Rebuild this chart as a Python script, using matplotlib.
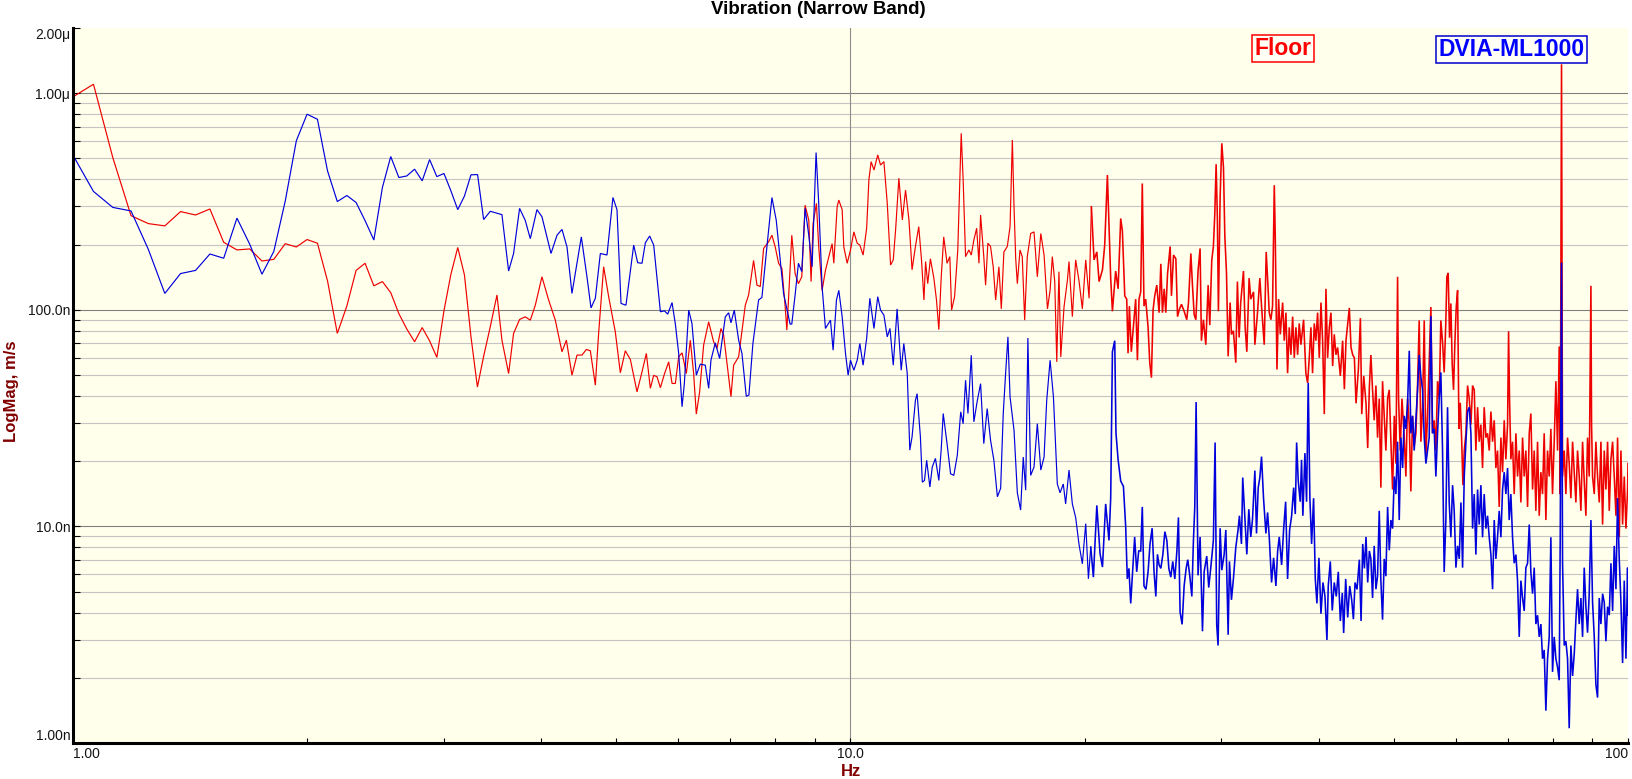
import matplotlib
matplotlib.use('Agg')
import matplotlib.pyplot as plt
from matplotlib.ticker import FixedLocator, NullFormatter

plt.rcParams['font.family'] = ['Liberation Sans', 'DejaVu Sans']

# ---------------- data ----------------
# Floor (red): frequency in Hz, magnitude in nm/s
floor_hz = [
    1.0, 1.0625, 1.125, 1.1875, 1.25, 1.3125, 1.375, 1.4375, 1.5, 1.5625,
    1.625, 1.6875, 1.75, 1.8125, 1.875, 1.9375, 2.0, 2.0625, 2.125, 2.1875,
    2.25, 2.3125, 2.375, 2.4375, 2.5, 2.5625, 2.625, 2.6875, 2.75, 2.8125,
    2.875, 2.9375, 3.0, 3.0625, 3.125, 3.1875, 3.25, 3.3125, 3.374, 3.441,
    3.510, 3.562, 3.633, 3.687, 3.753, 3.816, 3.874, 3.932, 4.010, 4.090,
    4.172, 4.255, 4.311, 4.383, 4.449, 4.515, 4.573, 4.628, 4.697, 4.743,
    4.814, 4.886, 4.983, 5.058, 5.133, 5.210, 5.314, 5.393, 5.463, 5.528,
    5.583, 5.638, 5.695, 5.763, 5.837, 5.895, 5.953, 6.012, 6.072, 6.150,
    6.223, 6.284, 6.334, 6.397, 6.473, 6.570, 6.667, 6.734, 6.814, 6.868,
    7.019, 7.074, 7.180, 7.323, 7.395, 7.505, 7.580, 7.655, 7.731, 7.846,
    7.924, 8.002, 8.082, 8.162, 8.242, 8.282, 8.322, 8.404, 8.487, 8.571,
    8.656, 8.742, 8.838, 8.898, 8.951, 9.040, 9.102, 9.193, 9.285, 9.470,
    9.518, 9.612, 9.660, 9.756, 9.804, 9.902,
    10.00, 10.10, 10.20, 10.28, 10.38, 10.49, 10.56, 10.63, 10.72, 10.84,
    10.93, 11.04, 11.15, 11.26, 11.35, 11.43, 11.54, 11.66, 11.77, 11.89,
    12.00, 12.12, 12.24, 12.34, 12.43, 12.49, 12.57, 12.67, 12.80, 12.90,
    12.99, 13.08, 13.18, 13.31, 13.42, 13.49, 13.61, 13.74, 13.88, 13.96,
    14.06, 14.20, 14.30, 14.41, 14.53, 14.63, 14.70, 14.84, 14.92, 15.02,
    15.14, 15.26, 15.37, 15.52, 15.63, 15.75, 15.91, 16.04, 16.15, 16.23,
    16.31, 16.39, 16.52, 16.63, 16.75, 16.88, 17.05, 17.22, 17.39, 17.57,
    17.74, 17.92, 18.06, 18.18, 18.31, 18.42, 18.54, 18.64, 18.82, 19.01,
    19.10, 19.29, 19.48, 19.67, 19.87, 20.07, 20.27, 20.41, 20.57, 20.74,
    20.88, 21.09, 21.23, 21.40, 21.61,
    21.72, 21.93, 22.09, 22.26, 22.37, 22.53, 22.66, 22.75, 22.84, 22.97,
    23.11, 23.27, 23.39, 23.50, 23.62, 23.73, 23.85, 23.97, 24.14, 24.26,
    24.38, 24.50, 24.62, 24.77, 24.94, 25.07, 25.19, 25.32, 25.44, 25.57,
    25.77, 25.87, 26.03, 26.21, 26.34, 26.47, 26.65, 26.86, 27.07, 27.21,
    27.40, 27.53, 27.67, 27.81, 27.99, 28.16, 28.27, 28.44, 28.64, 28.84,
    28.98, 29.15, 29.29, 29.41, 29.53, 29.64, 29.73, 29.88, 30.03, 30.18,
    30.30, 30.45, 30.60, 30.78, 30.90, 31.08, 31.30, 31.45, 31.61, 31.76,
    32.02, 32.18, 32.34, 32.56, 32.72, 32.99, 33.12, 33.38, 33.61, 33.78,
    34.05, 34.25, 34.39, 34.56, 34.73, 34.90, 35.08, 35.18, 35.36, 35.53,
    35.71, 35.96, 36.13, 36.31, 36.49, 36.67, 36.85, 37.04, 37.22, 37.40,
    37.59, 37.77, 37.96, 38.26, 38.52, 38.72, 38.91, 39.10, 39.29, 39.49,
    39.68, 39.88, 40.08, 40.28, 40.48, 40.68, 40.88, 41.08, 41.29, 41.49,
    41.70, 41.90, 42.11, 42.32, 42.66, 42.95, 43.17, 43.38, 43.81, 44.03,
    44.25, 44.47, 44.69, 45.00, 45.27, 45.45, 45.72, 46.03, 46.26, 46.49,
    46.70, 46.93, 47.16, 47.40, 47.63, 47.87, 48.10, 48.34, 48.58, 48.82,
    49.07, 49.31, 49.55, 49.80, 50.05, 50.29, 50.54, 50.69, 50.94, 51.20,
    51.55, 51.80, 52.06, 52.32, 52.57, 52.83, 53.09, 53.36, 53.62, 53.88,
    54.15, 54.42, 54.69, 54.96, 55.23, 55.50, 55.78, 56.05, 56.33, 56.61,
    56.89, 57.17, 57.45, 57.74, 58.02, 58.31, 58.48, 58.71, 58.95, 59.18,
    59.41, 59.65, 59.89, 60.13, 60.37, 60.61, 60.85, 61.09, 61.33, 61.57,
    61.88, 62.18, 62.49, 62.80, 63.11, 63.42, 63.73, 64.05, 64.36, 64.68,
    65.00, 65.32, 65.65, 65.97, 66.30, 66.63, 66.96, 67.29, 67.62, 67.95,
    68.29, 68.63, 68.97, 69.31, 69.65, 70.00, 70.21, 70.41, 70.69, 71.04,
    71.39, 71.75, 72.10, 72.46, 72.82, 73.18, 73.54, 73.90, 74.27, 74.64,
    75.00, 75.38, 75.75, 76.12, 76.50, 76.88, 77.26, 77.64, 78.02, 78.41,
    78.80, 79.19, 79.58, 79.97, 80.37, 80.77, 81.17, 81.57, 81.81, 82.13,
    82.38, 82.79, 83.20, 83.61, 84.02, 84.44, 84.86, 85.28, 85.70, 86.12,
    86.55, 86.98, 87.41, 87.84, 88.28, 88.71, 89.15, 89.42, 89.60, 89.77,
    90.04, 90.49, 90.93, 91.38, 91.84, 92.29, 92.75, 93.21, 93.67, 94.13,
    94.60, 95.07, 95.54, 96.01, 96.49, 96.96, 97.44, 97.93, 98.41, 98.90,
    99.39, 99.88, 100.0,
]
floor_nm = [
    962, 1100, 505, 272, 250, 244, 284, 274, 292, 205,
    189, 191, 168, 171, 202, 195, 211, 203, 136, 77.8,
    104, 152, 164, 129, 135, 120, 96, 81.5, 71.2, 82.8,
    71.9, 60.3, 99, 146, 194, 145, 75, 44, 61, 83.5,
    117, 72.4, 50.8, 77.8, 90.2, 92.8, 89.6, 105, 142, 111,
    89.6, 64, 72.4, 49.9, 61.8, 61.8, 65.6, 64.7, 44.9, 77.8,
    158, 115, 79.1, 51.2, 64.7, 59, 41.8, 51.7, 62.9, 43.4,
    49.8, 49.1, 43.7, 50.5, 57.5, 45.7, 45.7, 60.7, 63.3, 50.8,
    72.4, 50.8, 33, 41.8, 68.7, 88, 71.2, 66.3, 82, 76.4,
    39.7, 55.5, 60.7, 105, 117, 169, 130, 128, 192, 206,
    221, 195, 164, 155, 103, 80.6, 111, 221, 147, 132,
    142, 304, 259, 135, 250, 310, 195, 123, 152, 202,
    164, 299, 321, 290, 195, 164,
    189, 229, 203, 199, 179, 238, 398, 483, 442, 519,
    466, 483, 310, 161, 170, 235, 405, 260, 357, 260,
    153, 196, 242, 170, 111, 167, 132, 172, 140, 111,
    81, 140, 217, 164, 176, 99.7, 115, 189, 653, 398,
    176, 189, 179, 210, 238, 164, 274, 176, 130, 203,
    196, 158, 111, 158, 101, 185, 196, 242, 608, 299,
    173, 132, 189, 176, 89.6, 176, 225, 229, 142, 225,
    179, 101, 123, 176, 135, 57.5, 150, 60.6, 103, 137,
    167, 93, 170, 137, 101, 170, 113, 299, 170, 185,
    135, 153, 199, 419, 140,
    98.5, 151, 125, 264, 232, 116, 112, 63, 104, 64,
    83, 112, 58.5, 112, 121, 383, 104, 112, 83, 57,
    48.6, 100, 116, 130, 97, 163, 97, 125, 97, 146,
    196, 116, 179, 172, 93, 100, 106, 98.5, 90, 108,
    182, 130, 95, 90, 151, 192, 72, 90, 69, 130,
    85, 169, 196, 274, 470, 264, 98.5, 330, 587, 453,
    219, 148, 61, 108, 77, 80, 57, 135, 74.5, 108,
    151, 83, 64, 140, 112, 121, 69, 97, 140, 104,
    69, 185, 140, 97, 90, 104, 376, 219, 53, 112,
    77, 108, 72, 97, 51, 83, 62, 93, 60, 83,
    62, 86.5, 69, 90, 51, 46, 60, 83, 51, 86.5,
    72, 97, 60, 108, 72, 33, 125, 60, 83, 97,
    55, 77, 62, 67, 49.5, 72, 43, 72, 102, 67,
    62, 60, 37, 53, 91.5, 33, 49.5, 37, 23, 44,
    61.8, 42.7, 30.9, 44.7, 25.7, 38.9, 15.1, 46.8, 32.4, 22.4,
    38.9, 42.7, 24.6, 14.8, 32.4, 19.5, 142, 38.9, 22.4, 38.9,
    25.7, 17.0, 38.9, 29.5, 14.5, 32.4, 23.5, 26.9, 44.7, 89.3,
    24.6, 35.5, 89.3, 21.4, 32.4, 56.3, 103, 26.9, 30.9, 22.4,
    46.8, 38.9, 89.3, 70.9, 51.4, 89.3, 142, 148, 74.3, 107,
    56.3, 42.7, 70.9, 103, 123, 28.2, 37.2, 25.7, 15.5, 22.4,
    26.9, 44.7, 38.9, 29.5, 44.7, 42.7, 22.4, 35.5, 24.6, 29.5,
    18.6, 35.5, 25.7, 26.9, 22.4, 33.9, 24.6, 30.9, 18.6, 22.4,
    12.3, 25.7, 17.8, 30.9, 20.4, 29.5, 79.6, 38.9, 20.4, 24.6,
    14.1, 26.9, 17.0, 22.4, 12.9, 25.7, 17.0, 22.4, 12.3, 26.9,
    33.2, 14.8, 22.4, 11.8, 24.6, 11.2, 17.8, 14.1, 26.9, 10.7,
    22.4, 17.0, 28.2, 14.1, 24.6, 46.8, 22.4, 67.7, 14.1, 1360,
    17.0, 22.4, 14.1, 25.7, 19.5, 13.5, 24.6, 17.8, 12.9, 22.4,
    17.0, 11.8, 24.6, 16.2, 11.2, 25.7, 17.0, 61.8, 129, 29.5,
    17.0, 14.1, 24.6, 17.0, 12.9, 24.6, 10.2, 22.4, 14.8, 24.6,
    11.8, 20.4, 24.6, 17.0, 11.2, 25.7, 8.91, 22.4, 10.2, 17.0,
    9.77, 14.8, 19.5,
]

# DVIA-ML1000 (blue): frequency in Hz, magnitude in nm/s
dvia_hz = [
    1.0, 1.0625, 1.125, 1.1875, 1.25, 1.3125, 1.375, 1.4375, 1.5, 1.5625,
    1.625, 1.6875, 1.75, 1.8125, 1.875, 1.9375, 2.0, 2.0625, 2.125, 2.1875,
    2.25, 2.3125, 2.375, 2.4375, 2.5, 2.5625, 2.625, 2.6875, 2.75, 2.8125,
    2.875, 2.9375, 3.0, 3.0625, 3.125, 3.1875, 3.25, 3.314, 3.374, 3.441,
    3.562, 3.633, 3.687, 3.753, 3.816, 3.874, 3.951, 4.010, 4.119, 4.193,
    4.255, 4.319, 4.383, 4.506, 4.582, 4.637, 4.697, 4.767, 4.862, 4.948,
    5.008, 5.068, 5.143, 5.262, 5.324, 5.393, 5.447, 5.517, 5.583, 5.695,
    5.763, 5.820, 5.895, 5.953, 6.012, 6.072, 6.114, 6.193, 6.253, 6.334,
    6.409, 6.505, 6.570, 6.615, 6.700, 6.787, 6.902, 6.970, 7.019, 7.088,
    7.180, 7.251, 7.344, 7.402, 7.490, 7.617, 7.692, 7.807, 7.924, 8.026,
    8.122, 8.202, 8.282, 8.362, 8.404, 8.487, 8.571, 8.656, 8.742, 8.838,
    8.925, 9.031, 9.102, 9.193, 9.285, 9.424, 9.498, 9.593, 9.660, 9.756,
    9.853, 9.930,
    10.00, 10.10, 10.20, 10.28, 10.38, 10.49, 10.59, 10.72, 10.84, 10.93,
    11.04, 11.15, 11.24, 11.35, 11.48, 11.62, 11.71, 11.83, 11.92, 12.00,
    12.12, 12.18, 12.30, 12.37, 12.45, 12.53, 12.65, 12.74, 12.86, 12.99,
    13.08, 13.16, 13.31, 13.45, 13.58, 13.72, 13.86, 13.96, 14.06, 14.16,
    14.30, 14.41, 14.56, 14.70, 14.84, 14.99, 15.14, 15.29, 15.45, 15.60,
    15.72, 15.83, 15.94, 16.04, 16.23, 16.39, 16.55, 16.68, 16.80, 16.91,
    17.05, 17.22, 17.39, 17.57, 17.74, 17.88, 18.06, 18.24, 18.45, 18.60,
    18.78, 18.91, 19.10, 19.29, 19.48, 19.67, 19.87, 20.07, 20.23, 20.37,
    20.53, 20.74, 20.94, 21.09, 21.29, 21.50,
    21.61, 21.72, 21.87, 21.95, 22.09, 22.26, 22.44, 22.59, 22.70, 22.81,
    22.93, 23.06, 23.20, 23.34, 23.48, 23.62, 23.73, 23.85, 23.99, 24.14,
    24.28, 24.43, 24.57, 24.70, 24.82, 24.94, 25.07, 25.22, 25.37, 25.52,
    25.67, 25.82, 25.97, 26.13, 26.29, 26.41, 26.54, 26.70, 26.86, 27.02,
    27.15, 27.31, 27.48, 27.61, 27.72, 27.83, 27.99, 28.16, 28.36, 28.50,
    28.72, 28.89, 29.06, 29.29, 29.44, 29.58, 29.70, 29.88, 30.03, 30.24,
    30.39, 30.60, 30.72, 30.90, 31.08, 31.30, 31.51, 31.64, 31.83, 31.95,
    32.14, 32.34, 32.53, 32.72, 32.89, 33.12, 33.28, 33.45, 33.61, 33.78,
    33.98, 34.22, 34.39, 34.56, 34.80, 35.01, 35.25, 35.43, 35.60, 35.85,
    36.06, 36.28, 36.49, 36.71, 36.93, 37.15, 37.33, 37.48, 37.66, 37.88,
    38.03, 38.18, 38.41, 38.60, 38.79, 38.98, 39.18, 39.41, 39.61, 39.80,
    40.04, 40.28, 40.52, 40.76, 41.00, 41.16, 41.41, 41.65, 41.90, 42.15,
    42.40, 42.66, 42.91, 43.08, 43.34, 43.60, 43.86, 44.12, 44.34, 44.56,
    44.82, 45.13, 45.36, 45.58, 45.81, 46.03, 46.26, 46.49,
    46.70, 46.93, 47.16, 47.40, 47.63, 47.87, 48.10, 48.34, 48.58, 48.82,
    49.07, 49.31, 49.55, 49.80, 50.05, 50.29, 50.54, 50.79, 51.04, 51.30,
    51.55, 51.80, 52.06, 52.32, 52.57, 52.83, 53.09, 53.36, 53.62, 53.88,
    54.15, 54.42, 54.69, 54.96, 55.23, 55.50, 55.78, 56.05, 56.33, 56.61,
    56.89, 57.17, 57.45, 57.74, 58.02, 58.31, 58.60, 58.89, 59.18, 59.48,
    59.77, 60.07, 60.37, 60.67, 60.97, 61.27, 61.57, 61.88, 62.18, 62.49,
    62.80, 63.11, 63.42, 63.73, 64.05, 64.36, 64.68, 65.00, 65.32, 65.65,
    65.97, 66.30, 66.63, 66.96, 67.29, 67.62, 67.95, 68.29, 68.63, 68.97,
    69.31, 69.65, 70.00, 70.34, 70.69, 71.04, 71.39, 71.75, 72.10, 72.46,
    72.82, 73.18, 73.54, 73.90, 74.27, 74.64, 75.00, 75.38, 75.75, 76.12,
    76.50, 76.88, 77.26, 77.64, 78.02, 78.41, 78.80, 79.19, 79.58, 79.97,
    80.37, 80.77, 81.17, 81.57, 81.81, 82.13, 82.38, 82.79, 83.20, 83.61,
    84.02, 84.44, 84.86, 85.28, 85.70, 86.12, 86.55, 86.98, 87.41, 87.84,
    88.28, 88.71, 89.15, 89.60, 90.04, 90.49, 90.93, 91.38, 91.84, 92.29,
    92.75, 93.21, 93.67, 94.13, 94.60, 95.07, 95.54, 96.01, 96.49, 96.96,
    97.44, 97.93, 98.41, 98.90, 99.39, 99.88, 100.0,
]
dvia_nm = [
    517, 352, 297, 286, 190, 119, 147, 152, 181, 173,
    265, 201, 146, 186, 318, 603, 800, 758, 438, 316,
    337, 313, 258, 210, 367, 510, 408, 415, 446, 394,
    494, 412, 426, 354, 290, 335, 420, 421, 261, 285,
    275, 151, 182, 294, 259, 213, 290, 269, 182, 221,
    235, 195, 119, 217, 142, 102, 113, 182, 179, 330,
    290, 107, 105, 199, 165, 164, 204, 219, 199, 97.9,
    98.9, 95.5, 108, 85.9, 62.9, 35.7, 45.7, 99.7, 86.5, 49.9,
    56.1, 55.5, 43.4, 58.6, 70.4, 59.6, 92.8, 96.9, 87.1, 99.7,
    72.4, 62.9, 39.9, 40.4, 69.9, 111, 114, 195, 330, 259,
    169, 119, 101, 85.9, 85.9, 117, 164, 150, 294, 221,
    158, 532, 310, 128, 82, 89.6, 65.1, 111, 123, 92.8,
    62.9, 49.9,
    58.5, 52.6, 58.5, 69.9, 55.5, 73.7, 113, 82, 115, 99.7,
    94.5, 75, 82, 55.5, 101, 52.6, 69.9, 50.8, 22.5, 25.9,
    38.2, 41.0, 25.9, 16.0, 16.3, 20.2, 15.2, 18.8, 20.6, 16.3,
    22.5, 33.2, 24.1, 17.5, 17.2, 21.3, 33.8, 29.8, 47.3, 33.2,
    61.7, 30.4, 38.2, 45.6, 24.1, 35.0, 25.0, 20.2, 13.7, 15.0,
    33.2, 50.8, 75.0, 39.6, 27.8, 14.3, 11.9, 20.9, 14.7, 74.1,
    17.2, 18.8, 29.8, 18.2, 20.9, 38.2, 58.5, 39.6, 15.7, 14.3,
    15.7, 12.7, 18.2, 12.7, 11.0, 8.31, 6.72, 10.3, 5.73, 8.02,
    5.83, 12.5, 7.48, 6.49, 12.7, 8.62,
    13.5, 64, 72, 27, 20.3, 16.2, 15.3, 10.0, 5.72, 6.4,
    4.41, 6.17, 8.94, 6.17, 7.7, 7.7, 12.3, 5.31, 5.12, 6.17,
    8.3, 9.81, 6.17, 4.75, 7.43, 6.64, 6.4, 7.43, 9.46, 8.62,
    6.4, 5.83, 6.89, 5.72, 7.7, 11.0, 4.02, 3.53, 5.31, 6.4,
    7.02, 5.94, 4.75, 8.62, 12.3, 37.5, 5.94, 8.94, 3.28, 6.17,
    7.29, 5.22, 6.4, 8.62, 24.4, 3.53, 2.82, 9.81, 6.28, 7.43,
    9.63, 3.16, 6.89, 4.58, 5.72, 8.0, 9.63, 11.2, 8.3, 16.8,
    11.2, 7.43, 12.0, 8.94, 10.8, 18.1, 9.28, 15.1, 16.8, 21.0,
    13.5, 9.28, 11.6, 8.94, 5.51, 7.16, 5.31, 7.7, 8.94, 6.64,
    9.63, 13.0, 5.72, 9.63, 11.2, 15.1, 11.4, 24.4, 16.2, 13.0,
    20.3, 11.2, 21.8, 13.0, 46, 13.5, 8.3, 13.5, 5.72, 4.41,
    7.16, 3.95, 5.51, 4.75, 2.99, 5.31, 6.89, 4.09, 5.51, 4.75,
    6.17, 3.66, 4.93, 3.22, 5.72, 3.80, 5.31, 4.58, 3.73, 5.51,
    5.12, 7.02, 3.66, 8.3, 6.4, 8.94, 5.51, 7.7,
    7.08, 4.67, 8.13, 5.13, 5.89, 11.8, 5.62, 3.71, 7.08, 5.89,
    12.3, 7.76, 10.7, 9.77, 17.0, 14.1, 24.6, 10.7, 25.7, 18.6,
    32.4, 28.2, 37.2, 64.7, 26.9, 32.4, 22.4, 30.9, 42.7, 61.8,
    49.1, 42.7, 25.7, 19.5, 22.4, 25.7, 93.5, 26.9, 28.2, 17.0,
    26.9, 38.9, 51.4, 22.4, 6.16, 10.7, 35.5, 12.9, 8.91, 15.5,
    11.8, 6.45, 8.13, 7.08, 12.9, 6.45, 17.0, 24.6, 33.9, 35.5,
    26.9, 9.77, 14.1, 7.41, 14.8, 10.2, 15.5, 8.91, 14.1, 9.77,
    11.2, 8.91, 7.41, 5.13, 10.7, 7.08, 8.91, 11.8, 8.91, 14.8,
    17.8, 14.1, 18.6, 10.7, 14.1, 8.91, 6.76, 7.41, 5.62, 3.09,
    5.62, 4.67, 4.07, 6.45, 6.76, 10.2, 6.16, 4.89, 6.45, 3.54,
    3.89, 3.09, 3.54, 2.45, 2.69, 1.41, 2.45, 3.09, 8.91, 2.13,
    3.09, 2.45, 2.24, 1.95, 8.51, 165, 6.76, 2.82, 2.95, 2.45,
    1.17, 2.82, 2.04, 2.57, 3.71, 5.13, 3.54, 4.67, 3.09, 6.45,
    4.26, 3.23, 4.89, 10.7, 4.46, 3.09, 1.86, 1.62, 4.67, 3.54,
    4.89, 4.46, 2.95, 4.26, 3.89, 6.76, 4.07, 8.13, 5.13, 13.5,
    7.08, 4.46, 2.34, 5.62, 2.45, 6.45, 3.89,
]

y_ticks = [1e-9, 1e-8, 1e-7, 1e-6, 2e-6]
y_tick_labels = ['1.00n', '10.0n', '100.0n', '1.00\u03bc', '2.00\u03bc']
x_ticks = [1, 10, 100]
x_tick_labels = ['1.00', '10.0', '100']
series_names = ['Floor', 'DVIA-ML1000']
series_colors = ['#EE0000', '#0000DD']

# ---------------- figure ----------------
W, H = 1632, 779
fig = plt.figure(figsize=(W / 100, H / 100), dpi=100)
L, R, T, B = 73, 1628, 28, 743
ax = fig.add_axes([L / W, 1 - B / H, (R - L) / W, (B - T) / H])
ax.set_facecolor('#FFFFEB')
ax.set_xscale('log')
ax.set_yscale('log')
ax.set_xlim(1, 100)
ax.set_ylim(1e-9, 2e-6)

minor_y = [m * 10.0 ** e for e in range(-9, -5) for m in range(2, 10)
           if m * 10.0 ** e < 1.99e-6]
minor_x = [m * 10.0 ** e for e in (0, 1) for m in range(2, 10)]

for v in minor_y:
    ax.axhline(v, color='#C4C4C4', lw=0.8, zorder=0.5)
for v in [1e-8, 1e-7, 1e-6]:
    ax.axhline(v, color='#808080', lw=0.8, zorder=0.6)
ax.axvline(10, color='#8C8C8C', lw=0.8, zorder=0.6)


def draw_series(hz, nm, color, z):
    # the dense narrow-band part (above ~20 Hz) looks heavier in the reference
    lo = [i for i, f in enumerate(hz) if f <= 20.5]
    hi = [i for i, f in enumerate(hz) if f >= hz[lo[-1]]]
    ax.plot([hz[i] for i in lo], [nm[i] * 1e-9 for i in lo], color=color,
            lw=0.85, zorder=z, solid_joinstyle='miter')
    ax.plot([hz[i] for i in hi], [nm[i] * 1e-9 for i in hi], color=color,
            lw=1.15, zorder=z, solid_joinstyle='miter')


draw_series(floor_hz, floor_nm, series_colors[0], 2)
draw_series(dvia_hz, dvia_nm, series_colors[1], 3)

ax.yaxis.set_major_locator(FixedLocator(y_ticks))
ax.set_yticklabels(y_tick_labels)
ax.yaxis.set_minor_locator(FixedLocator(minor_y))
ax.yaxis.set_minor_formatter(NullFormatter())
ax.xaxis.set_major_locator(FixedLocator(x_ticks))
ax.set_xticklabels(x_tick_labels)
ax.xaxis.set_minor_locator(FixedLocator(minor_x))
ax.xaxis.set_minor_formatter(NullFormatter())

ax.tick_params(axis='y', which='both', direction='in', length=5, width=0.8,
               pad=2, labelsize=10, labelcolor='#151515', color='black')
ax.tick_params(axis='x', which='both', direction='in', length=3.5, width=0.8,
               pad=3, labelsize=10, labelcolor='#151515', color='black')

for s in ('top', 'right'):
    ax.spines[s].set_visible(False)
for s in ('left', 'bottom'):
    ax.spines[s].set_linewidth(2.2)
    ax.spines[s].set_color('black')
    ax.spines[s].set_zorder(5)

xl = ax.get_xticklabels()
xl[0].set_ha('left')
xl[-1].set_ha('right')
yl = ax.get_yticklabels()
yl[0].set_va('bottom')
yl[-1].set_va('top')

fig.text(818 / W, 1 - 10 / H, 'Vibration (Narrow Band)', ha='center',
         va='center', fontsize=13.5, fontweight='bold', color='black')
fig.text(12 / W, 1 - 391 / H, 'LogMag, m/s', rotation=90, ha='center',
         va='center', fontsize=12, fontweight='bold', color='#800000')
fig.text(851 / W, 1 - 771 / H, 'Hz', ha='center', va='center', fontsize=12,
         fontweight='bold', color='#800000')

fig.text(1283 / W, 1 - 48.5 / H, series_names[0], ha='center', va='center',
         fontsize=16.5, fontweight='bold', color='#FF0000',
         bbox=dict(boxstyle='square,pad=0.1', fc='#FFFFF6', ec='#FF0000', lw=1.1))
fig.text(1511.5 / W, 1 - 49.5 / H, series_names[1], ha='center', va='center',
         fontsize=16.5, fontweight='bold', color='#0000FF',
         bbox=dict(boxstyle='square,pad=0.1', fc='#FFFFF6', ec='#0000CC', lw=1.1))

fig.savefig('out.png', dpi=100, facecolor='white')
